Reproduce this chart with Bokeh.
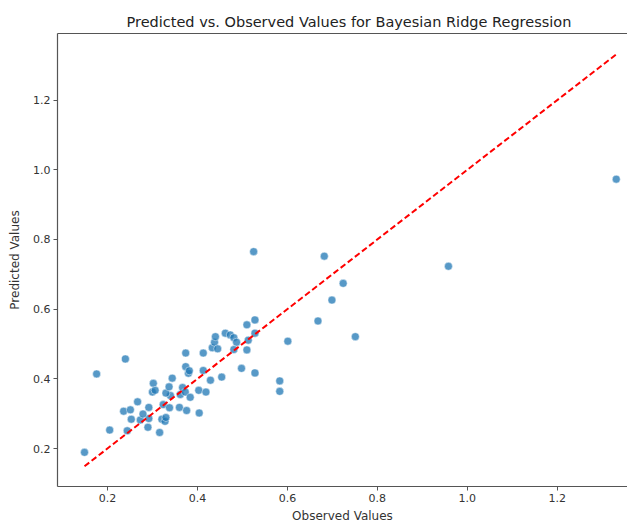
from bokeh.plotting import figure
from bokeh.models import Range1d, LinearAxis, FixedTicker, Title, NumeralTickFormatter
from bokeh.embed import file_html
from bokeh.resources import INLINE

observed = [0.149, 0.176, 0.240, 0.205, 0.244, 0.316, 0.290, 0.253, 0.273, 0.292,
            0.279, 0.236, 0.251, 0.267, 0.292, 0.321, 0.328, 0.330, 0.324, 0.338,
            0.340, 0.330, 0.337, 0.302, 0.300, 0.306, 0.344, 0.360, 0.362, 0.367,
            0.373, 0.376, 0.384, 0.380, 0.374, 0.382, 0.374, 0.404, 0.403, 0.419,
            0.429, 0.413, 0.413, 0.454, 0.433, 0.438, 0.440, 0.445, 0.462, 0.473,
            0.481, 0.487, 0.481, 0.498, 0.510, 0.528, 0.513, 0.510, 0.528, 0.528,
            0.583, 0.583, 0.525, 0.682, 0.724, 0.699, 0.668, 0.601, 0.751, 0.958,
            1.331]
predicted = [0.189, 0.414, 0.457, 0.253, 0.251, 0.246, 0.261, 0.284, 0.282, 0.286,
             0.299, 0.307, 0.311, 0.334, 0.318, 0.284, 0.278, 0.289, 0.326, 0.317,
             0.352, 0.359, 0.377, 0.387, 0.362, 0.367, 0.402, 0.318, 0.355, 0.375,
             0.362, 0.309, 0.347, 0.416, 0.435, 0.423, 0.474, 0.302, 0.367, 0.362,
             0.396, 0.424, 0.474, 0.405, 0.489, 0.505, 0.521, 0.486, 0.531, 0.526,
             0.518, 0.505, 0.484, 0.430, 0.555, 0.569, 0.511, 0.483, 0.531, 0.417,
             0.394, 0.364, 0.765, 0.752, 0.674, 0.626, 0.566, 0.508, 0.521, 0.723,
             0.973]
tick_values = [0.2, 0.4, 0.6, 0.8, 1.0, 1.2]

FONT = "DejaVu Sans"
AX = "#555555"
TXT = "#333333"

p = figure(width=627, height=525, output_backend="svg", toolbar_location=None,
           x_range=Range1d(0.089, 1.356), y_range=Range1d(0.091, 1.391),
           x_axis_label="Observed Values", y_axis_label="Predicted Values",
           min_border_left=57, min_border_right=0, min_border_top=33,
           min_border_bottom=37, title=None)
p.outline_line_color = None
p.xgrid.visible = False
p.ygrid.visible = False

for ax in (p.xaxis[0], p.yaxis[0]):
    ax.ticker = FixedTicker(ticks=tick_values)
    ax.formatter = NumeralTickFormatter(format="0.0")
    ax.axis_line_color = AX
    ax.axis_line_width = 1.2
    ax.major_tick_line_color = AX
    ax.major_tick_out = 4
    ax.major_tick_in = 0
    ax.minor_tick_line_color = None
    ax.major_label_text_font = FONT
    ax.major_label_text_font_size = "11px"
    ax.major_label_text_color = TXT
    ax.major_label_standoff = 3
    ax.axis_label_text_font = FONT
    ax.axis_label_text_font_size = "12px"
    ax.axis_label_text_font_style = "normal"
    ax.axis_label_text_color = TXT
p.xaxis[0].axis_label_standoff = 4
p.yaxis[0].axis_label_standoff = 8

top = LinearAxis(ticker=FixedTicker(ticks=[]), axis_line_color=AX, axis_line_width=1.2,
                 major_tick_line_color=None, minor_tick_line_color=None,
                 major_label_text_font_size="0px", major_label_standoff=0,
                 major_tick_out=0)
p.add_layout(top, "above")
p.add_layout(Title(text="Predicted vs. Observed Values for Bayesian Ridge Regression",
                   text_font=FONT, text_font_size="14.5px", text_font_style="normal",
                   text_color="#222222", align="left", offset=69, standoff=7), "above")

p.scatter(observed, predicted, size=8, fill_color="#1f77b4", fill_alpha=0.75,
          line_color="white", line_width=0.6, line_alpha=0.8)

lo, hi = min(observed), max(observed)
p.line([lo, hi], [lo, hi], line_color="red", line_width=2, line_dash="6 3")

open("out.html", "w").write(file_html(p, INLINE))
